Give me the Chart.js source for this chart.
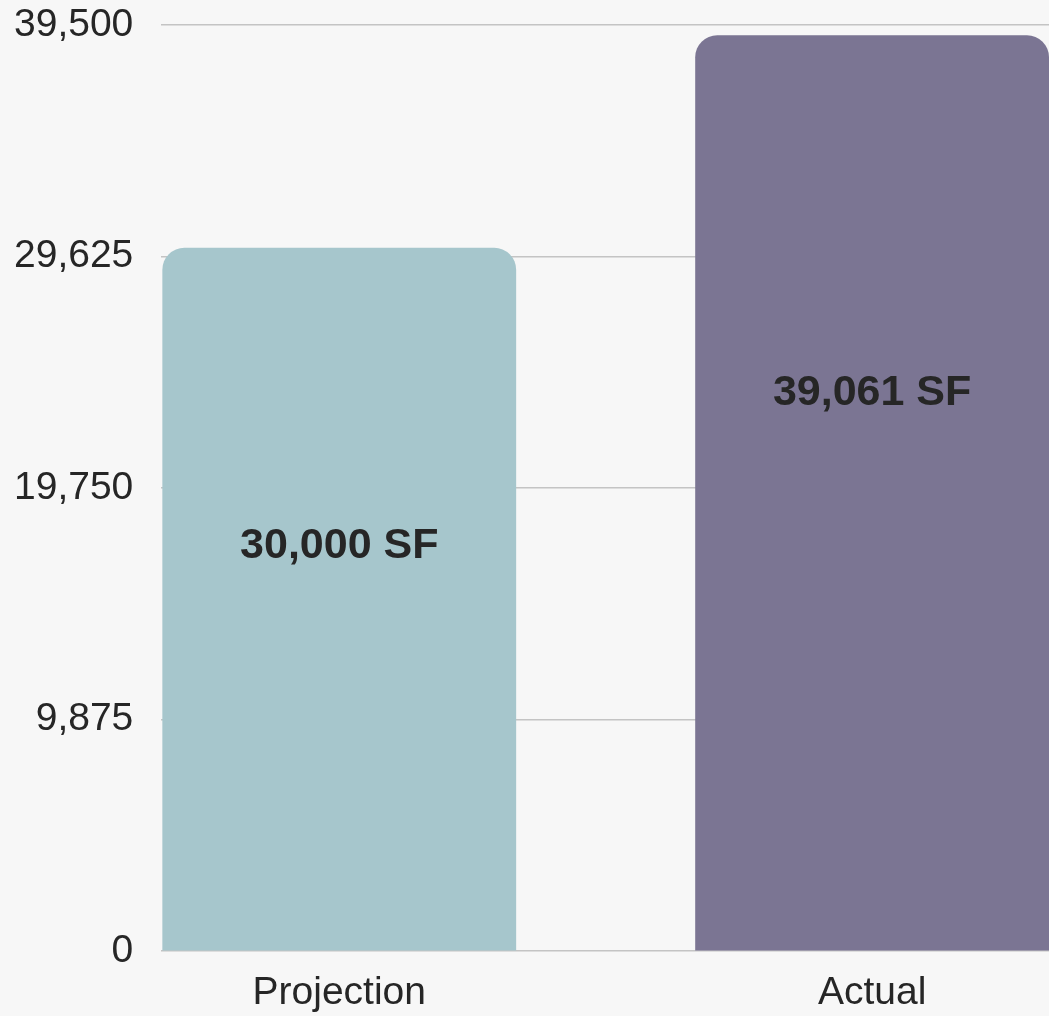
<!DOCTYPE html>
<html>
<head>
<meta charset="utf-8">
<script src="https://cdn.jsdelivr.net/npm/chart.js@4.4.0/dist/chart.umd.min.js"></script>
<style>
  html, body { margin: 0; padding: 0; background: #f7f7f7; }
  #wrap { width: 1049px; height: 1016px; }
</style>
</head>
<body>
<div id="wrap"><canvas id="chart"></canvas></div>
<script>
// valores do grafico
const categorias = ["Projection", "Actual"];
const areas = [30000, 39061];
const rotulos = ["30,000 SF", "39,061 SF"];
const yTicks = [0, 9875, 19750, 29625, 39500];
const cores = ["#a6c6cc", "#7b7593"];

// escreve o rotulo dentro de cada barra
const rotuloBarras = {
    id: "rotuloBarras",
    afterDatasetsDraw(chart, args, opts) {
        const ctx = chart.ctx;
        const meta = chart.getDatasetMeta(0);
        ctx.save();
        ctx.font = "bold 43px 'Liberation Sans', Arial, sans-serif";
        ctx.fillStyle = "#262626";
        ctx.textAlign = "center";
        ctx.textBaseline = "middle";
        meta.data.forEach((bar, i) => {
            const y = bar.y + (bar.base - bar.y) * opts.posicao[i];
            ctx.fillText(rotulos[i], bar.x, y);
        });
        ctx.restore();
    }
};

new Chart(document.getElementById("chart").getContext("2d"), {
    type: "bar",
    data: {
        datasets: [{
            data: areas.map((v, i) => ({ x: i, y: v })),
            backgroundColor: cores,
            borderRadius: 22,
            borderSkipped: "bottom",
            barPercentage: 1,
            categoryPercentage: 0.664,
        }],
    },
    options: {
        responsive: true,
        maintainAspectRatio: false,
        animation: false,
        // o chart.js soma o padding dos ticks duas vezes, compensa aqui
        layout: { padding: { left: -14, right: 0, top: 0, bottom: -20 } },
        plugins: {
            legend: { display: false },
            tooltip: { enabled: false },
            rotuloBarras: { posicao: [0.424, 0.391] },
        },
        scales: {
            x: {
                type: "linear",
                offset: false,
                bounds: "data",
                min: -0.334,
                max: 1.332,
                grid: { display: false, drawTicks: false, offset: false },
                border: { display: false },
                afterBuildTicks: s => { s.ticks = categorias.map((c, i) => ({ value: i })); },
                ticks: {
                    padding: 19,
                    autoSkip: false,
                    maxRotation: 0,
                    minRotation: 0,
                    color: "#262626",
                    font: { size: 39, family: "'Liberation Sans', Arial, sans-serif" },
                    callback: v => categorias[v],
                },
            },
            y: {
                min: 0,
                max: 39500,
                afterBuildTicks: s => { s.ticks = yTicks.map(v => ({ value: v })); },
                afterFit: s => { s.paddingTop = 25; s.paddingBottom = 0; },
                grid: { color: "#c4c4c4", lineWidth: 1.5, drawTicks: false },
                border: { display: false },
                ticks: {
                    padding: 28,
                    color: "#262626",
                    font: { size: 39, family: "'Liberation Sans', Arial, sans-serif" },
                    callback: v => v.toLocaleString("en-US"),
                },
            },
        },
    },
    plugins: [rotuloBarras],
});
</script>
</body>
</html>
